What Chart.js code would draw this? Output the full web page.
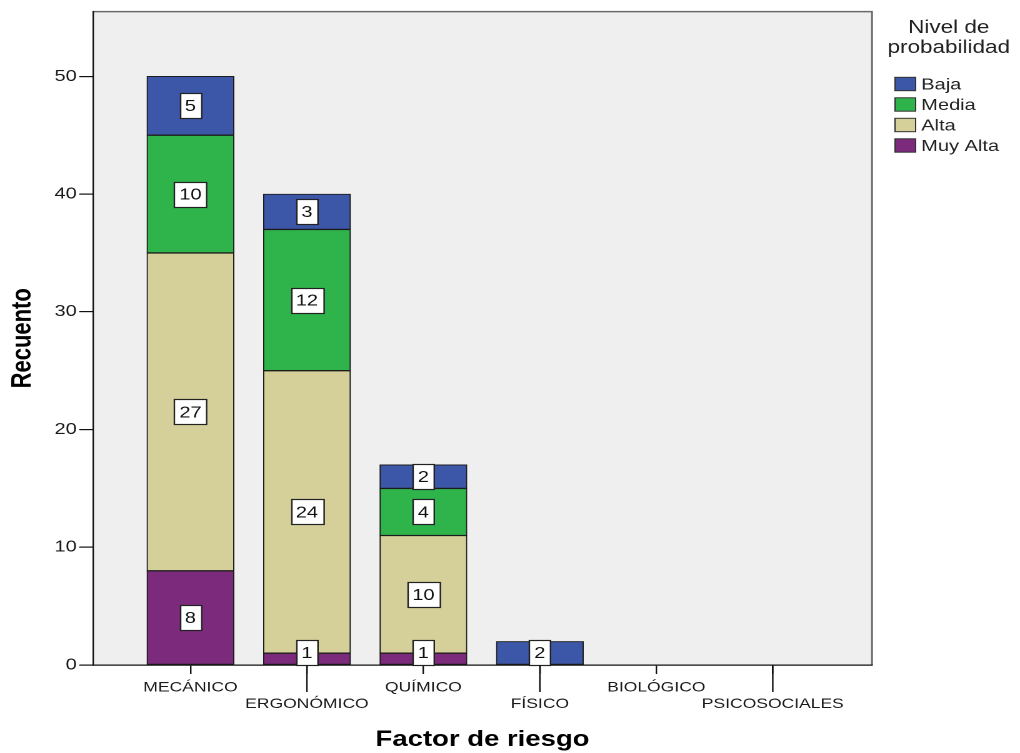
<!DOCTYPE html>
<html>
<head>
<meta charset="utf-8">
<script src="https://cdn.jsdelivr.net/npm/chart.js@4/dist/chart.umd.min.js"></script>
<style>
  html, body { margin: 0; padding: 0; background: #ffffff; overflow: hidden; }
  #wrap { width: 1020px; height: 753px; overflow: hidden; }
  /* the chart is laid out on an 816px-wide canvas and widened to 1020px */
  #c { display: block; transform: scaleX(1.25); transform-origin: 0 0; }
</style>
</head>
<body>
<div id="wrap"><canvas id="c" width="816" height="753"></canvas></div>
<script>
// Factor de riesgo (categories) and counts per nivel de probabilidad
const categories = ['MECÁNICO', 'ERGONÓMICO', 'QUÍMICO', 'FÍSICO', 'BIOLÓGICO', 'PSICOSOCIALES'];
const levels = ['Baja', 'Media', 'Alta', 'Muy Alta'];
const baja    = [5, 3, 2, 2, null, null];
const media   = [10, 12, 4, null, null, null];
const alta    = [27, 24, 10, null, null, null];
const muyAlta = [8, 1, 1, null, null, null];
const yTicks  = [0, 10, 20, 30, 40, 50];
const yMax = 55.5;

const levelColors = {
  'Baja': '#3D57A8',
  'Media': '#2FB44C',
  'Alta': '#D5CF99',
  'Muy Alta': '#7C2A7C'
};
const levelValues = { 'Baja': baja, 'Media': media, 'Alta': alta, 'Muy Alta': muyAlta };

const FONT = '"Liberation Sans", Arial, Helvetica, sans-serif';

// stacking goes bottom-up: Muy Alta first, Baja on top
const stackOrder = ['Muy Alta', 'Alta', 'Media', 'Baja'];
const datasets = stackOrder.map(name => ({
  label: name,
  data: levelValues[name].map((v, i) => ({ x: i, y: v })),
  backgroundColor: levelColors[name],
  borderColor: '#1e1e1e',
  borderWidth: 1,
  borderSkipped: false,
  barThickness: 69.6
}));

// plot background and frame
const plotFrame = {
  id: 'plotFrame',
  beforeDraw(chart) {
    const { ctx, chartArea: a } = chart;
    ctx.save();
    ctx.fillStyle = '#EFEFEF';
    ctx.fillRect(a.left, a.top, a.right - a.left, a.bottom - a.top);
    ctx.strokeStyle = '#6a6a6a';
    ctx.lineWidth = 1.5;
    ctx.beginPath();
    ctx.moveTo(a.left, a.top);
    ctx.lineTo(a.right, a.top);
    ctx.lineTo(a.right, a.bottom);
    ctx.stroke();
    ctx.restore();
  },
  afterDraw(chart) {
    // longer tick marks under the staggered (second row) category labels
    const { ctx, chartArea: a } = chart;
    const xs = chart.scales.x;
    ctx.save();
    ctx.strokeStyle = '#111';
    ctx.lineWidth = 1.2;
    categories.forEach((c, i) => {
      if (i % 2 === 1) {
        const px = xs.getPixelForValue(i);
        ctx.beginPath();
        ctx.moveTo(px, a.bottom);
        ctx.lineTo(px, a.bottom + 27);
        ctx.stroke();
      }
    });
    ctx.restore();
  }
};

// boxed value labels in the middle of each segment
const valueBoxes = {
  id: 'valueBoxes',
  afterDatasetsDraw(chart) {
    const { ctx, chartArea: a } = chart;
    ctx.save();
    ctx.font = '16px ' + FONT;
    ctx.textAlign = 'center';
    ctx.textBaseline = 'middle';
    chart.data.datasets.forEach((ds, di) => {
      const meta = chart.getDatasetMeta(di);
      meta.data.forEach((el, i) => {
        const v = ds.data[i].y;
        if (v === null || v === undefined) return;
        const { x, y, base } = el.getProps(['x', 'y', 'base'], true);
        const txt = String(v);
        const w = ctx.measureText(txt).width + 8;
        const h = 25;
        let cy = (y + base) / 2;
        if (cy + h / 2 > a.bottom) cy = a.bottom - h / 2;
        const bx = Math.round(x - w / 2) + 0.5;
        const by = Math.round(cy - h / 2) + 0.5;
        ctx.fillStyle = '#ffffff';
        ctx.fillRect(bx, by, w, h);
        ctx.strokeStyle = '#222';
        ctx.lineWidth = 1.2;
        ctx.strokeRect(bx, by, w, h);
        ctx.fillStyle = '#111';
        ctx.fillText(txt, x, cy + 1);
      });
    });
    ctx.restore();
  }
};

// legend with a two-line title, to the right of the plot
const sideLegend = {
  id: 'sideLegend',
  afterDraw(chart) {
    const { ctx } = chart;
    ctx.save();
    ctx.fillStyle = '#222';
    ctx.textAlign = 'center';
    ctx.textBaseline = 'middle';
    ctx.font = '18px ' + FONT;
    ctx.fillText('Nivel de', 759, 28);
    ctx.fillText('probabilidad', 759, 48);
    ctx.textAlign = 'left';
    ctx.font = '16px ' + FONT;
    levels.forEach((name, i) => {
      const cy = 84 + i * 20.5;
      ctx.fillStyle = levelColors[name];
      ctx.fillRect(716, cy - 6.7, 16.5, 13.4);
      ctx.strokeStyle = '#333';
      ctx.lineWidth = 1;
      ctx.strokeRect(716, cy - 6.7, 16.5, 13.4);
      ctx.fillStyle = '#222';
      ctx.fillText(name, 737, cy + 1);
    });
    ctx.restore();
  }
};

new Chart(document.getElementById('c'), {
  type: 'bar',
  data: { datasets },
  options: {
    responsive: false,
    animation: false,
    devicePixelRatio: 2,
    layout: { padding: { left: 0, right: 118.4, top: 10, bottom: 0 } },
    plugins: {
      legend: { display: false },
      tooltip: { enabled: false }
    },
    scales: {
      x: {
        type: 'linear',
        stacked: true,
        offset: false,
        min: -0.837,
        max: 5.852,
        afterBuildTicks(scale) {
          scale.ticks = categories.map((c, i) => ({ value: i }));
        },
        afterFit(scale) { scale.height = 88; },
        grid: { offset: false, drawOnChartArea: false, drawTicks: true, tickLength: 9, color: '#111', lineWidth: 1.2 },
        border: { display: true, color: '#111', width: 1.2 },
        ticks: {
          autoSkip: false,
          maxRotation: 0,
          minRotation: 0,
          padding: 5,
          color: '#1a1a1a',
          font: { family: FONT, size: 14, lineHeight: 1.2 },
          callback(value) {
            const i = Math.round(value);
            return i % 2 === 1 ? ['', categories[i]] : categories[i];
          }
        },
        title: {
          display: true,
          text: 'Factor de riesgo',
          color: '#000',
          font: { family: FONT, size: 22, weight: 'bold', lineHeight: 1.2 },
          padding: { top: 0, bottom: 0 }
        }
      },
      y: {
        stacked: true,
        min: 0,
        max: yMax,
        afterBuildTicks(scale) {
          scale.ticks = yTicks.map(v => ({ value: v }));
        },
        afterFit(scale) { scale.width = 74.4; },
        grid: { drawOnChartArea: false, drawTicks: true, tickLength: 11, color: '#111', lineWidth: 1.2 },
        border: { display: true, color: '#111', width: 1.2 },
        ticks: {
          padding: 2,
          color: '#1a1a1a',
          font: { family: FONT, size: 16 }
        },
        title: {
          display: true,
          text: 'Recuento',
          color: '#000',
          font: { family: FONT, size: 22, weight: 'bold', lineHeight: 1.2 },
          padding: { top: 5, bottom: 0 }
        }
      }
    }
  },
  plugins: [plotFrame, valueBoxes, sideLegend]
});
</script>
</body>
</html>
